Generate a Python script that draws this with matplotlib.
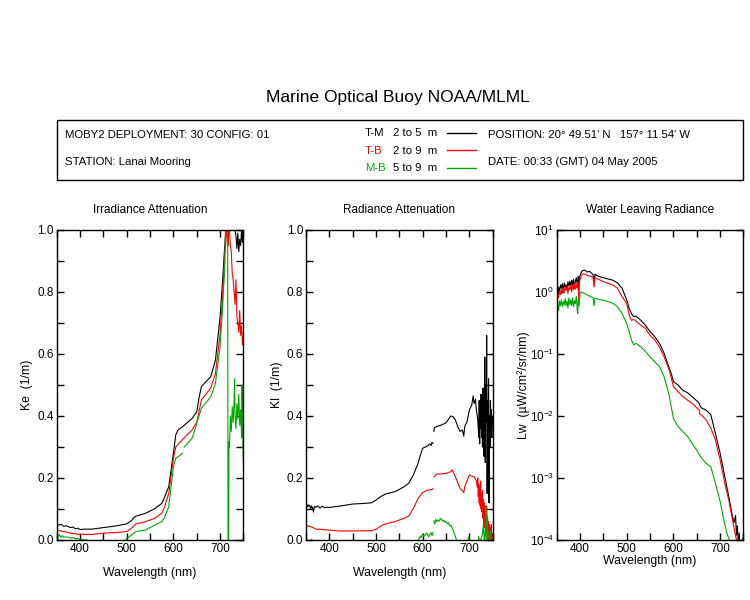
import matplotlib
matplotlib.use('Agg')
import matplotlib.pyplot as plt
import numpy as np
from matplotlib.patches import Rectangle
from matplotlib.lines import Line2D
from matplotlib.ticker import MultipleLocator, LogLocator, NullLocator

plt.rcParams['font.family'] = ['Liberation Sans', 'DejaVu Sans']
plt.rcParams['mathtext.fontset'] = 'custom'
plt.rcParams['mathtext.rm'] = 'Liberation Sans'

nan = np.nan
GREEN = '#00a800'

# Irradiance attenuation Ke (1/m)
ke_black_wl = [350, 355, 360, 365, 370, 375, 380, 385, 390, 395, 400, 410, 425, 450, 475, 500, 510, 515, 520,
               540, 560, 575, 580, 590, 595, 600, 605, 610, 620, 640, 650, 655, 660, 670, 680, 690, 700, 705,
               710, 715, 725, 730, 734, 736, 738, 740, 742, 744, 746, 748, 750]
ke_black = [0.052, 0.048, 0.050, 0.044, 0.046, 0.043, 0.040, 0.042, 0.036, 0.038, 0.034, 0.035, 0.035, 0.040,
            0.045, 0.052, 0.062, 0.072, 0.077, 0.086, 0.101, 0.118, 0.134, 0.172, 0.226, 0.280, 0.339, 0.355,
            0.366, 0.392, 0.414, 0.460, 0.495, 0.511, 0.527, 0.580, 0.720, 0.830, 0.950, 1.050, 1.100, 1.020,
            0.980, 0.940, 0.990, 0.930, 0.970, 0.950, 1.000, 0.960, 1.020]

ke_red_wl = [350, 355, 360, 365, 370, 375, 380, 390, 400, 410, 425, 450, 475, 500, 510, 520, 540, 560, 575, 580,
             590, 600, 605, 620, 640, 650, 660, 680, 690, 700, 705, 710, 714, 716, 717, 718, 720, 722, 724, 726,
             728, 730, 732, 734, 736, 738, 740, 742, 744, 746, 748, 750]
ke_red = [0.032, 0.030, 0.029, 0.027, 0.026, 0.024, 0.022, 0.020, 0.018, 0.018, 0.018, 0.022, 0.024, 0.027,
          0.038, 0.052, 0.059, 0.070, 0.086, 0.102, 0.150, 0.263, 0.300, 0.325, 0.355, 0.380, 0.452, 0.490,
          0.537, 0.667, 0.780, 0.925, 0.990, 1.020, 0.950, 1.030, 1.000, 0.950, 0.930, 0.860, 0.840, 0.800,
          0.760, 0.840, 0.720, 0.700, 0.670, 0.740, 0.660, 0.690, 0.630, 0.660]

ke_green_wl = [350, 353, 356, 359, 362, 365, 370, 375, 380, 385, 390, 395, 400, 410, 420, 425, 440, 460, 480,
               495, 500, 510, 520, 540, 560, 575, 580, 590, 600, 605, 620, 622, 623, 640, 660, 680, 690, 700,
               705, 710, 712, 714, 716, 717, 718, 719, 720, 722, 724, 726, 728, 730, 731, 732, 734, 736, 738,
               740, 742, 744, 746, 747, 748, 749, 750]
ke_green = [0.016, 0.010, 0.018, 0.008, 0.014, 0.009, 0.010, 0.009, 0.006, 0.008, 0.004, 0.005, 0.002, 0.001,
            -0.002, -0.010, -0.020, -0.020, -0.020, -0.010, 0.005, 0.016, 0.027, 0.032, 0.048, 0.059, 0.070,
            0.107, 0.237, 0.263, 0.280, nan, 0.300, 0.328, 0.425, 0.462, 0.505, 0.624, 0.742, 0.880, 1.050,
            1.300, 1.300, -0.100, -0.100, 0.317, 0.300, 0.400, 0.350, 0.430, 0.380, 0.450, 0.520, 0.400,
            0.360, 0.440, 0.390, 0.470, 0.370, 0.420, 0.330, 0.500, 0.400, 0.300, 0.250]

# Radiance attenuation Kl (1/m)
kl_black_wl = [350, 352, 354, 356, 358, 360, 362, 364, 366, 368, 370, 375, 380, 385, 390, 395, 400, 425, 450,
               475, 490, 500, 510, 520, 540, 550, 560, 570, 580, 590, 595, 600, 610, 615, 618, 620, 622, 623,
               624, 625, 630, 640, 650, 660, 665, 670, 675, 680, 685, 688, 690, 695, 700, 705, 708, 710, 713,
               715, 718, 720, 721, 722, 723, 724, 725, 726, 727, 728, 729, 730, 731, 732, 733, 734, 735, 736,
               737, 738, 739, 740, 741, 742, 743, 744, 745, 746, 747, 748, 749, 750]
kl_black = [0.112, 0.106, 0.114, 0.108, 0.112, 0.100, 0.110, 0.104, 0.090, 0.108, 0.105, 0.110, 0.103, 0.109,
            0.104, 0.106, 0.105, 0.110, 0.116, 0.118, 0.120, 0.129, 0.140, 0.148, 0.156, 0.163, 0.172, 0.183,
            0.210, 0.247, 0.274, 0.296, 0.303, 0.310, 0.305, 0.315, 0.312, nan, 0.350, 0.362, 0.366, 0.371,
            0.378, 0.400, 0.398, 0.387, 0.366, 0.350, 0.355, 0.335, 0.366, 0.382, 0.420, 0.435, 0.465, 0.440,
            0.454, 0.420, 0.387, 0.330, 0.450, 0.310, 0.420, 0.360, 0.470, 0.330, 0.400, 0.300, 0.490, 0.350,
            0.270, 0.450, 0.590, 0.250, 0.500, 0.380, 0.660, 0.150, 0.450, 0.360, 0.520, 0.120, 0.400, 0.300,
            0.450, 0.350, 0.420, 0.330, 0.400, 0.370]

kl_red_wl = [350, 355, 360, 365, 370, 375, 380, 390, 400, 425, 450, 475, 490, 500, 510, 520, 540, 560, 570, 580,
             590, 600, 610, 620, 622, 623, 624, 630, 640, 650, 655, 660, 663, 670, 680, 688, 690, 700, 705, 710,
             715, 717, 718, 719, 720, 721, 722, 723, 724, 725, 726, 727, 728, 729, 730, 731, 732, 733, 734, 735,
             736, 737, 738, 739, 740, 741, 742, 743, 744, 745, 746, 747, 748, 749, 750]
kl_red = [0.048, 0.045, 0.043, 0.040, 0.036, 0.034, 0.035, 0.033, 0.032, 0.029, 0.029, 0.030, 0.030, 0.034,
          0.045, 0.052, 0.059, 0.070, 0.077, 0.102, 0.134, 0.153, 0.161, 0.163, 0.165, nan, 0.204, 0.213, 0.213,
          0.215, 0.218, 0.220, 0.226, 0.204, 0.167, 0.153, 0.172, 0.210, 0.206, 0.204, 0.190, 0.170, 0.200,
          0.140, 0.180, 0.120, 0.170, 0.110, 0.190, 0.100, 0.150, 0.090, 0.160, 0.070, 0.130, 0.050, 0.120,
          0.040, 0.100, 0.020, 0.080, 0.110, 0.030, 0.070, 0.000, 0.060, 0.020, 0.050, -0.010, 0.040, 0.000,
          0.050, -0.010, 0.020, -0.020]

kl_green_wl = [350, 360, 362, 364, 590, 592, 595, 597, 600, 602, 605, 608, 610, 613, 615, 618, 620, 622, 623,
               624, 626, 628, 630, 632, 635, 638, 640, 643, 645, 648, 650, 653, 655, 658, 660, 665, 670, 673,
               695, 698, 700, 718, 720, 722, 728, 730, 732, 734, 735, 736, 738, 740, 745, 747, 750]
kl_green = [-0.020, -0.010, 0.002, -0.020, -0.005, 0.005, 0.013, 0.008, 0.020, 0.012, 0.016, 0.022, 0.020,
            0.010, 0.016, 0.024, 0.014, 0.024, nan, 0.062, 0.052, 0.066, 0.059, 0.065, 0.060, 0.070, 0.067,
            0.060, 0.064, 0.057, 0.059, 0.052, 0.056, 0.045, 0.048, 0.032, 0.011, -0.005, -0.020, 0.010,
            -0.010, -0.020, 0.012, -0.010, 0.020, 0.050, -0.010, 0.030, 0.110, 0.000, 0.080, -0.020, 0.030,
            -0.020, -0.030]

# Water leaving radiance Lw (uW/cm^2/sr/nm)
lw_black_wl = [350, 352, 354, 356, 358, 360, 362, 364, 366, 368, 370, 372, 374, 376, 378, 380, 382, 384, 386,
               388, 390, 392, 394, 396, 397, 398, 400, 403, 405, 410, 415, 420, 425, 428, 430, 432, 435, 440,
               450, 460, 470, 480, 490, 500, 505, 510, 515, 520, 530, 540, 550, 560, 570, 580, 590, 595, 600,
               610, 620, 630, 640, 650, 655, 657, 660, 670, 680, 690, 700, 710, 720, 725, 730, 733, 735, 737,
               739, 741, 743, 745, 747, 749, 750]
lw_black = [1.05, 0.85, 1.2, 1.0, 1.3, 1.15, 1.35, 1.05, 1.4, 1.2, 1.3, 1.1, 1.45, 1.25, 1.5, 1.2, 1.55, 1.3,
            1.6, 1.15, 1.5, 1.7, 1.3, 1.8, 0.8, 1.6, 1.85, 2.1, 2.2, 2.25, 2.1, 2.15, 2.0, 1.9, 1.45, 1.95,
            1.85, 1.78, 1.7, 1.62, 1.55, 1.4, 1.15, 0.74, 0.55, 0.45, 0.40, 0.41, 0.35, 0.29, 0.23, 0.19,
            0.149, 0.103, 0.0625, 0.049, 0.0358, 0.0316, 0.026, 0.0238, 0.0205, 0.0175, 0.016, 0.0145,
            0.0135, 0.0124, 0.0105, 0.0052, 0.0025, 0.00105, 0.00044, 0.00027, 0.00019, 0.00025, 0.00012,
            0.00017, 0.00008, 0.00013, 0.00006, 0.00009, 0.00005, 0.00011, 0.00005]

lw_red_wl = [350, 352, 354, 356, 358, 360, 362, 364, 366, 368, 370, 372, 374, 376, 378, 380, 382, 384, 386,
             388, 390, 392, 394, 396, 397, 398, 400, 403, 405, 410, 415, 420, 425, 428, 430, 432, 435, 440,
             450, 460, 470, 480, 490, 500, 505, 510, 515, 520, 530, 540, 550, 560, 570, 580, 590, 595, 600,
             610, 620, 630, 640, 650, 655, 657, 660, 670, 680, 690, 700, 710, 720, 725, 730, 735, 738]
lw_red = [0.84, 0.95, 0.8, 1.05, 0.9, 1.1, 0.95, 1.15, 1.0, 1.2, 1.05, 1.25, 0.95, 1.2, 1.1, 1.25, 1.0, 1.3,
          1.1, 1.35, 1.1, 1.3, 1.15, 1.45, 0.74, 1.3, 1.6, 1.85, 1.95, 1.95, 1.85, 1.81, 1.75, 1.7, 1.2, 1.7,
          1.65, 1.6, 1.47, 1.38, 1.3, 1.15, 0.84, 0.656, 0.43, 0.35, 0.36, 0.34, 0.29, 0.26, 0.20, 0.168,
          0.13, 0.09, 0.058, 0.042, 0.0297, 0.0247, 0.0205, 0.0181, 0.016, 0.0135, 0.0125, 0.0105, 0.0104,
          0.0086, 0.0064, 0.0041, 0.00195, 0.00082, 0.00039, 0.00024, 0.000155, 0.0001, 0.00007]

lw_green_wl = [350, 352, 354, 356, 358, 360, 362, 364, 366, 368, 370, 372, 374, 376, 378, 380, 382, 384, 386,
               388, 390, 392, 394, 395, 396, 398, 400, 403, 405, 410, 415, 420, 425, 428, 430, 432, 435, 440,
               450, 460, 470, 480, 490, 500, 505, 510, 515, 520, 530, 540, 550, 560, 570, 580, 590, 600, 610,
               620, 630, 640, 650, 660, 670, 680, 690, 700, 705, 710, 715, 720, 722]
lw_green = [0.55, 0.68, 0.5, 0.72, 0.6, 0.75, 0.58, 0.7, 0.62, 0.78, 0.6, 0.72, 0.55, 0.8, 0.62, 0.75, 0.6,
            0.8, 0.58, 0.72, 0.65, 0.85, 0.5, 0.45, 0.75, 0.6, 0.95, 1.0, 0.98, 0.95, 0.9, 0.86, 0.82, 0.8,
            0.6, 0.8, 0.78, 0.76, 0.74, 0.70, 0.66, 0.58, 0.45, 0.31, 0.23, 0.168, 0.14, 0.149, 0.13, 0.11,
            0.09, 0.075, 0.0625, 0.043, 0.023, 0.0091, 0.0068, 0.0056, 0.0047, 0.0036, 0.0028, 0.0021,
            0.00173, 0.00152, 0.00082, 0.00042, 0.00027, 0.00018, 0.000125, 0.0001, 0.00007]

fig = plt.figure(figsize=(7.5, 6), dpi=100)

fig.text(0.531, 0.838, 'Marine Optical Buoy NOAA/MLML', ha='center', va='center', fontsize=12.5)
fig.patches.append(Rectangle((0.076, 0.70), 0.9147, 0.10, transform=fig.transFigure,
                             fill=False, edgecolor='black', linewidth=1))

hs = 8.2
fig.text(0.0867, 0.775, 'MOBY2 DEPLOYMENT: 30 CONFIG: 01', va='center', fontsize=hs)
fig.text(0.0867, 0.730, 'STATION: Lanai Mooring', va='center', fontsize=hs)
fig.text(0.6507, 0.775, "POSITION: 20° 49.51' N   157° 11.54' W", va='center', fontsize=hs)
fig.text(0.6507, 0.7295, 'DATE: 00:33 (GMT) 04 May 2005', va='center', fontsize=hs)

legend_rows = [('T-M', '2 to 5  m', 'black', 0.778),
               ('T-B', '2 to 9  m', 'red', 0.749),
               ('M-B', '5 to 9  m', GREEN, 0.7195)]
for name, depth, col, yy in legend_rows:
    fig.text(0.4867, yy, name, va='center', fontsize=hs, color=col)
    fig.text(0.5236, yy, depth, va='center', fontsize=hs)
    fig.lines.append(Line2D([0.5964, 0.6343], [yy + 0.001, yy + 0.001], transform=fig.transFigure,
                            color=col, linewidth=1))

lefts = [0.0756, 0.408, 0.7423]
axes = [fig.add_axes([l, 0.1, 0.249, 0.5167]) for l in lefts]
ax1, ax2, ax3 = axes

lw = 0.8
ax1.plot(ke_black_wl, ke_black, color='black', linewidth=lw)
ax1.plot(ke_red_wl, ke_red, color='red', linewidth=lw)
ax1.plot(ke_green_wl, ke_green, color=GREEN, linewidth=lw)
ax1.set_ylim(0, 1)
ax1.set_ylabel('Ke  (1/m)', fontsize=8.8)
ax1.set_title('Irradiance Attenuation', fontsize=8.5, pad=12)

ax2.plot(kl_black_wl, kl_black, color='black', linewidth=lw)
ax2.plot(kl_red_wl, kl_red, color='red', linewidth=lw)
ax2.plot(kl_green_wl, kl_green, color=GREEN, linewidth=lw)
ax2.set_ylim(0, 1)
ax2.set_ylabel('Kl  (1/m)', fontsize=8.8)
ax2.set_title('Radiance Attenuation', fontsize=8.5, pad=12)

ax3.plot(lw_black_wl, lw_black, color='black', linewidth=lw)
ax3.plot(lw_red_wl, lw_red, color='red', linewidth=lw)
ax3.plot(lw_green_wl, lw_green, color=GREEN, linewidth=lw)
ax3.set_yscale('log')
ax3.set_ylim(1e-4, 10)
ax3.yaxis.set_major_locator(LogLocator(base=10, numticks=10))
ax3.yaxis.set_minor_locator(NullLocator())
ax3.set_ylabel('Lw  (µW/cm²/sr/nm)', fontsize=8.8)
ax3.set_title('Water Leaving Radiance', fontsize=8.5, pad=12)

for ax in axes:
    ax.set_xlim(350, 750)
    ax.xaxis.set_major_locator(MultipleLocator(100))
    ax.xaxis.set_minor_locator(MultipleLocator(50))
    ax.tick_params(which='both', direction='in', top=True, right=True, length=5, width=1,
                   labelsize=8.5, pad=2)
    ax.set_xlabel('Wavelength (nm)', fontsize=8.8)
    ax.xaxis.set_label_coords(0.5, -0.087)
    for s in ax.spines.values():
        s.set_linewidth(1)

for ax in (ax1, ax2):
    ax.yaxis.set_major_locator(MultipleLocator(0.2))
    ax.yaxis.set_minor_locator(MultipleLocator(0.1))
    ax.yaxis.set_major_formatter(plt.FormatStrFormatter('%.1f'))

ax1.yaxis.set_label_coords(-0.127, 0.5)
ax2.yaxis.set_label_coords(-0.123, 0.5)
ax3.yaxis.set_label_coords(-0.143, 0.5)
ax3.xaxis.set_label_coords(0.5, -0.048)

fig.savefig('out.png', dpi=100)
